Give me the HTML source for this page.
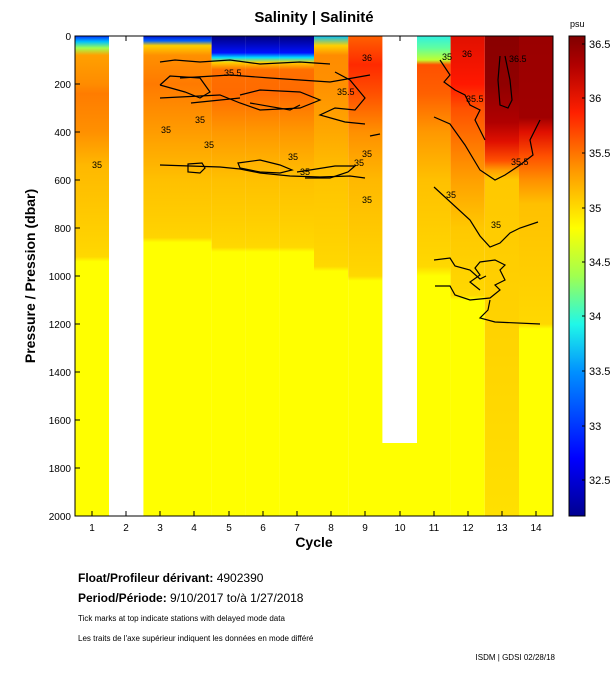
<!DOCTYPE html>
<html><head><meta charset="utf-8"><style>
body{margin:0;background:#fff;width:611px;height:675px;overflow:hidden;font-family:"Liberation Sans",sans-serif}
</style></head><body>
<svg width="611" height="675" xmlns="http://www.w3.org/2000/svg" font-family="Liberation Sans, sans-serif">
<defs>
<linearGradient id="c1" x1="0" y1="0" x2="0" y2="1">
<stop offset="0" stop-color="#0030ff"/><stop offset="0.012" stop-color="#00c0ff"/><stop offset="0.025" stop-color="#a0ff50"/><stop offset="0.04" stop-color="#ffa000"/><stop offset="0.1" stop-color="#ff8c00"/><stop offset="0.12" stop-color="#ff7c00"/><stop offset="0.2" stop-color="#ff9000"/><stop offset="0.27" stop-color="#ffb800"/><stop offset="0.46" stop-color="#ffd800"/><stop offset="0.47" stop-color="#ffff00"/><stop offset="1" stop-color="#ffff00"/></linearGradient>
<linearGradient id="c3" x1="0" y1="0" x2="0" y2="1">
<stop offset="0" stop-color="#0010d0"/><stop offset="0.01" stop-color="#0060ff"/><stop offset="0.02" stop-color="#ffd000"/><stop offset="0.04" stop-color="#ff9000"/><stop offset="0.1" stop-color="#ff7a00"/><stop offset="0.2" stop-color="#ff9c00"/><stop offset="0.3" stop-color="#ffc000"/><stop offset="0.42" stop-color="#ffd400"/><stop offset="0.43" stop-color="#ffff00"/><stop offset="1" stop-color="#ffff00"/></linearGradient>
<linearGradient id="c5" x1="0" y1="0" x2="0" y2="1">
<stop offset="0" stop-color="#000080"/><stop offset="0.035" stop-color="#0010ff"/><stop offset="0.045" stop-color="#00e0ff"/><stop offset="0.055" stop-color="#ffd000"/><stop offset="0.07" stop-color="#ff7000"/><stop offset="0.12" stop-color="#ff6a00"/><stop offset="0.2" stop-color="#ff9800"/><stop offset="0.3" stop-color="#ffc000"/><stop offset="0.44" stop-color="#ffd800"/><stop offset="0.45" stop-color="#ffff00"/><stop offset="1" stop-color="#ffff00"/></linearGradient>
<linearGradient id="c8" x1="0" y1="0" x2="0" y2="1">
<stop offset="0" stop-color="#00c0ff"/><stop offset="0.02" stop-color="#ffd000"/><stop offset="0.04" stop-color="#ff8c00"/><stop offset="0.1" stop-color="#ff9000"/><stop offset="0.2" stop-color="#ffa800"/><stop offset="0.3" stop-color="#ffc400"/><stop offset="0.48" stop-color="#ffd800"/><stop offset="0.49" stop-color="#ffff00"/><stop offset="1" stop-color="#ffff00"/></linearGradient>
<linearGradient id="c9" x1="0" y1="0" x2="0" y2="1">
<stop offset="0" stop-color="#ff6000"/><stop offset="0.06" stop-color="#ff2a00"/><stop offset="0.12" stop-color="#ff5000"/><stop offset="0.2" stop-color="#ff9000"/><stop offset="0.3" stop-color="#ffb800"/><stop offset="0.5" stop-color="#ffd800"/><stop offset="0.51" stop-color="#ffff00"/><stop offset="1" stop-color="#ffff00"/></linearGradient>
<linearGradient id="c11" x1="0" y1="0" x2="0" y2="1">
<stop offset="0" stop-color="#30f0e0"/><stop offset="0.025" stop-color="#60ffa0"/><stop offset="0.05" stop-color="#c0ff30"/><stop offset="0.06" stop-color="#ff5000"/><stop offset="0.12" stop-color="#ff6000"/><stop offset="0.2" stop-color="#ff9800"/><stop offset="0.3" stop-color="#ffc000"/><stop offset="0.48" stop-color="#ffd800"/><stop offset="0.5" stop-color="#ffff00"/><stop offset="1" stop-color="#ffff00"/></linearGradient>
<linearGradient id="c12" x1="0" y1="0" x2="0" y2="1">
<stop offset="0" stop-color="#e01000"/><stop offset="0.1" stop-color="#ff1800"/><stop offset="0.15" stop-color="#ff5000"/><stop offset="0.3" stop-color="#ffa000"/><stop offset="0.4" stop-color="#ffc800"/><stop offset="0.54" stop-color="#ffd800"/><stop offset="0.55" stop-color="#ffff00"/><stop offset="1" stop-color="#ffff00"/></linearGradient>
<linearGradient id="c13" x1="0" y1="0" x2="0" y2="1">
<stop offset="0" stop-color="#8a0000"/><stop offset="0.1" stop-color="#900000"/><stop offset="0.18" stop-color="#b00000"/><stop offset="0.22" stop-color="#e01000"/><stop offset="0.26" stop-color="#ff5000"/><stop offset="0.28" stop-color="#ffa000"/><stop offset="0.3" stop-color="#ffc800"/><stop offset="1" stop-color="#ffe000"/></linearGradient>
<linearGradient id="c14" x1="0" y1="0" x2="0" y2="1">
<stop offset="0" stop-color="#9a0000"/><stop offset="0.17" stop-color="#a00000"/><stop offset="0.2" stop-color="#e01000"/><stop offset="0.25" stop-color="#ff5000"/><stop offset="0.3" stop-color="#ff9000"/><stop offset="0.35" stop-color="#ffc000"/><stop offset="0.6" stop-color="#ffd800"/><stop offset="0.61" stop-color="#ffff00"/><stop offset="1" stop-color="#ffff00"/></linearGradient>
<linearGradient id="cb" x1="0" y1="1" x2="0" y2="0">
<stop offset="0" stop-color="#000090"/><stop offset="0.12" stop-color="#0000ff"/><stop offset="0.3" stop-color="#0090ff"/><stop offset="0.4" stop-color="#20f8e8"/><stop offset="0.5" stop-color="#a0ff50"/><stop offset="0.6" stop-color="#ffff00"/><stop offset="0.72" stop-color="#ff9800"/><stop offset="0.84" stop-color="#ff2000"/><stop offset="0.94" stop-color="#b00000"/><stop offset="1" stop-color="#800000"/></linearGradient>
</defs>
<text x="314" y="22" font-size="15" font-weight="bold" text-anchor="middle">Salinity | Salinité</text>
<g>
<rect x="75" y="36" width="34.1" height="480" fill="url(#c1)"/>
<rect x="143.3" y="36" width="34.2" height="480" fill="url(#c3)"/>
<rect x="177.4" y="36" width="34.2" height="480" fill="url(#c3)"/>
<rect x="211.6" y="36" width="34.2" height="480" fill="url(#c5)"/>
<rect x="245.7" y="36" width="34.2" height="480" fill="url(#c5)"/>
<rect x="279.9" y="36" width="34.2" height="480" fill="url(#c5)"/>
<rect x="314" y="36" width="34.2" height="480" fill="url(#c8)"/>
<rect x="348.2" y="36" width="34.2" height="480" fill="url(#c9)"/>
<rect x="382" y="443" width="35" height="73" fill="#ffff00"/>
<rect x="416.5" y="36" width="34.2" height="480" fill="url(#c11)"/>
<rect x="450.6" y="36" width="34.2" height="480" fill="url(#c12)"/>
<rect x="484.8" y="36" width="34.2" height="480" fill="url(#c13)"/>
<rect x="519" y="36" width="34" height="480" fill="url(#c14)"/>
<rect x="383" y="36" width="34" height="407" fill="#fff"/>
<rect x="109" y="36" width="34.3" height="480" fill="#fff"/>
</g>
<g fill="none" stroke="#000" stroke-width="1.2">
<path d="M160 62 L175 60 L200 62 L230 60 L260 64 L300 62 L330 64"/>
<path d="M180 78 L230 75 L270 78 L300 80 L330 82 L370 75"/>
<path d="M160 85 L170 76 L200 78 L210 92 L200 98 L185 92 L160 85"/>
<path d="M160 98 L220 95 L240 103 L260 110 L300 108 L320 100 L300 92 L260 90 L240 95"/>
<path d="M250 103 L290 110 L300 105"/>
<path d="M335 72 L350 80 L360 92 L365 98 L355 110 L335 108 L320 115 L345 122 L365 124"/>
<path d="M191 103 L240 98"/>
<path d="M188 164 L202 163 L205 168 L200 173 L188 172 Z"/>
<path d="M160 165 L220 167 L240 169 L260 173 L290 176 L320 177 L350 176 L365 178"/>
<path d="M238 163 L260 160 L280 165 L292 170 L280 173 L260 172 L240 168 Z"/>
<path d="M297 172 L310 170 L335 166 L355 166 L348 172 L330 178 L305 178"/>
<path d="M370 136 L380 134"/>
<path d="M434 187 L470 220 L480 236 L490 247 L500 243 L510 233 L520 228 L538 222"/>
<path d="M434 117 L450 124 L465 145 L480 170 L495 180 L505 175 L520 165 L533 155 L530 140 L540 120"/>
<path d="M505 56 L510 80 L512 100 L508 108 L500 105 L498 80 L500 56"/>
<path d="M440 60 L450 75 L444 82 L455 90 L465 95 L470 105 L480 110 L475 120 L485 140"/>
<path d="M434 260 L450 258 L455 266 L470 270 L480 279 L486 276"/>
<path d="M435 286 L450 286 L455 295 L470 300 L490 298 L500 290 L495 285 L505 280 L500 270 L505 265 L495 260 L480 262 L475 268 L480 275 L470 282 L480 290"/>
<path d="M490 300 L488 310 L480 318 L495 322 L540 324"/>
</g>
<g font-size="9" fill="#000">
<text x="92" y="168">35</text><text x="161" y="133">35</text><text x="195" y="123">35</text><text x="204" y="148">35</text><text x="288" y="160">35</text><text x="300" y="175">35</text><text x="362" y="157">35</text><text x="354" y="166">35</text><text x="362" y="203">35</text><text x="446" y="198">35</text><text x="491" y="228">35</text>
<text x="224" y="76">35.5</text><text x="337" y="95">35.5</text><text x="466" y="102">35.5</text><text x="511" y="165">35.5</text><text x="362" y="61">36</text><text x="462" y="57">36</text><text x="509" y="62">36.5</text><text x="442" y="60">35</text>
</g>
<rect x="75" y="36" width="478" height="480" fill="none" stroke="#000"/>
<g stroke="#000"><path d="M92 516v-5M126 516v-5M160 516v-5M194 516v-5M229 516v-5M263 516v-5M297 516v-5M331 516v-5M365 516v-5M400 516v-5M434 516v-5M468 516v-5M502 516v-5M536 516v-5"/>
<path d="M75 84h5M75 132h5M75 180h5M75 228h5M75 276h5M75 324h5M75 372h5M75 420h5M75 468h5"/>
<path d="M126 36v5M400 36v5"/></g>
<g font-size="10" text-anchor="middle"><text x="92" y="531">1</text><text x="126" y="531">2</text><text x="160" y="531">3</text><text x="194" y="531">4</text><text x="229" y="531">5</text><text x="263" y="531">6</text><text x="297" y="531">7</text><text x="331" y="531">8</text><text x="365" y="531">9</text><text x="400" y="531">10</text><text x="434" y="531">11</text><text x="468" y="531">12</text><text x="502" y="531">13</text><text x="536" y="531">14</text></g>
<g font-size="10" text-anchor="end"><text x="71" y="40">0</text><text x="71" y="88">200</text><text x="71" y="136">400</text><text x="71" y="184">600</text><text x="71" y="232">800</text><text x="71" y="280">1000</text><text x="71" y="328">1200</text><text x="71" y="376">1400</text><text x="71" y="424">1600</text><text x="71" y="472">1800</text><text x="71" y="520">2000</text></g>
<text x="314" y="547" font-size="14" font-weight="bold" text-anchor="middle">Cycle</text>
<text transform="translate(35 276) rotate(-90)" font-size="14" font-weight="bold" text-anchor="middle">Pressure / Pression (dbar)</text>
<rect x="569" y="36" width="16" height="480" fill="url(#cb)" stroke="#000"/>
<text x="570" y="27" font-size="9">psu</text>
<g font-size="11"><text x="589" y="48">36.5</text><text x="589" y="102">36</text><text x="589" y="157">35.5</text><text x="589" y="212">35</text><text x="589" y="266">34.5</text><text x="589" y="320">34</text><text x="589" y="375">33.5</text><text x="589" y="430">33</text><text x="589" y="484">32.5</text></g>
<g stroke="#000"><path d="M585 44h-3M585 98h-3M585 153h-3M585 208h-3M585 262h-3M585 316h-3M585 371h-3M585 426h-3M585 480h-3"/></g>
<text x="78" y="582" font-size="12"><tspan font-weight="bold">Float/Profileur dérivant:</tspan> 4902390</text>
<text x="78" y="602" font-size="12"><tspan font-weight="bold">Period/Période:</tspan> 9/10/2017  to/à  1/27/2018</text>
<text x="78" y="621" font-size="8">Tick marks at top indicate stations with delayed mode data</text>
<text x="78" y="641" font-size="8">Les traits de l'axe supérieur indiquent les données en mode différé</text>
<text x="555" y="660" font-size="8" text-anchor="end">ISDM | GDSI 02/28/18</text>
</svg>
</body></html>
